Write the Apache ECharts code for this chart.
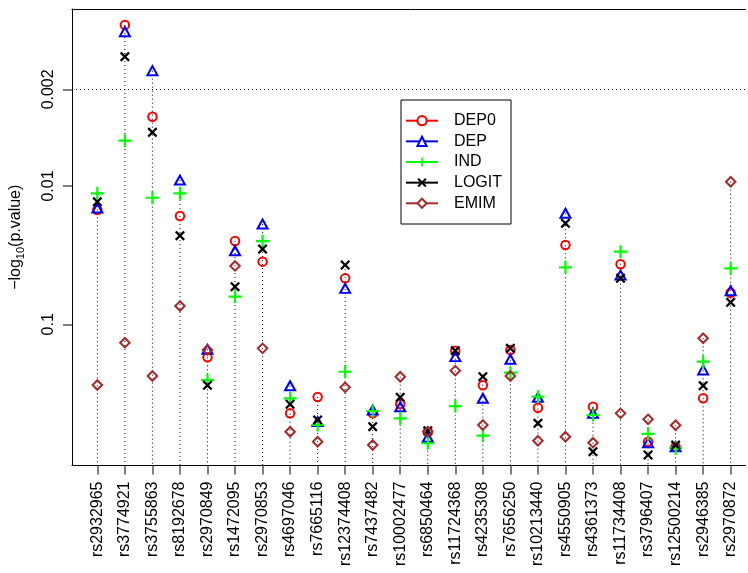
<!DOCTYPE html>
<html>
<head>
<meta charset="utf-8">
<script src="https://cdn.jsdelivr.net/npm/echarts@6/dist/echarts.min.js"></script>
<style>
html,body{margin:0;padding:0;background:#fff;overflow:hidden;}
#chart{width:748px;height:573px;overflow:hidden;}
</style>
</head>
<body>
<div id="chart"></div>
<script>
// SNP names (x categories)
const categories = ['rs2932965','rs3774921','rs3755863','rs8192678','rs2970849','rs1472095','rs2970853','rs4697046','rs7665116','rs12374408','rs7437482','rs10002477','rs6850464','rs11724368','rs4235308','rs7656250','rs10213440','rs4550905','rs4361373','rs11734408','rs3796407','rs12500214','rs2946385','rs2970872'];

// -log10(p.value) per test
const dep0  = [1.826, 3.164, 2.501, 1.783, 0.761, 1.602, 1.453, 0.356, 0.474, 1.333, 0.356, 0.424, 0.223, 0.809, 0.559, 0.814, 0.397, 1.573, 0.404, 1.434, 0.151, 0.115, 0.465, 1.228];
const dep   = [1.841, 3.116, 2.834, 2.043, 0.819, 1.532, 1.725, 0.556, 0.296, 1.260, 0.380, 0.404, 0.183, 0.766, 0.465, 0.747, 0.472, 1.803, 0.356, 1.356, 0.144, 0.115, 0.670, 1.243];
const ind   = [1.947, 2.328, 1.915, 1.947, 0.597, 1.200, 1.602, 0.465, 0.272, 0.657, 0.373, 0.320, 0.140, 0.409, 0.195, 0.650, 0.477, 1.412, 0.344, 1.525, 0.207, 0.104, 0.730, 1.405];
const logit = [1.886, 2.935, 2.388, 1.641, 0.559, 1.272, 1.544, 0.422, 0.308, 1.429, 0.260, 0.472, 0.230, 0.809, 0.621, 0.826, 0.284, 1.730, 0.079, 1.333, 0.055, 0.127, 0.556, 1.159];
const emim  = [0.561, 0.867, 0.626, 1.132, 0.814, 1.422, 0.826, 0.223, 0.151, 0.544, 0.127, 0.621, 0.223, 0.665, 0.272, 0.626, 0.158, 0.187, 0.144, 0.356, 0.313, 0.270, 0.899, 2.031];

// y tick labels (p-values) and threshold line
const yTickP = [0.1, 0.01, 0.002];
const yTickLabels = ['0.1', '0.01', '0.002'];
const thresholdP = 0.002;

const seriesNames = ['DEP0', 'DEP', 'IND', 'LOGIT', 'EMIM'];
const seriesData = [dep0, dep, ind, logit, emim];
const colors = ['#FF0000', '#0000FF', '#00FF00', '#000000', '#A52A2A'];

const PLUS = 'path://M5.4,0H7.6V5.4H13V7.6H7.6V13H5.4V7.6H0V5.4H5.4Z';
const CROSS = 'path://M0,1.6L1.6,0L5,3.4L8.4,0L10,1.6L6.6,5L10,8.4L8.4,10L5,6.6L1.6,10L0,8.4L3.4,5Z';
const symbols = ['circle', 'triangle', PLUS, CROSS, 'diamond'];
const symbolSizes = [8.5, [10, 9], 13, 10, 9.5];
const hollow = [true, true, false, false, true];

const yTickV = yTickP.map(p => -Math.log10(p));
const FONT = "'Liberation Sans', Arial, sans-serif";

const maxPerCat = categories.map((c, i) => Math.max(...seriesData.map(s => s[i])));
const yMin = -0.021, yMax = 3.28;
const xMin = 0.08, xMax = 24.92;

const series = [];
series.push({
  type: 'custom',
  name: 'stems',
  silent: true,
  z: 1,
  data: maxPerCat.map((v, i) => [i + 1, v]),
  renderItem: function (params, api) {
    const x = api.value(0);
    const top = api.coord([x, api.value(1)]);
    const bot = api.coord([x, yMin]);
    return {
      type: 'line',
      shape: { x1: top[0], y1: top[1], x2: bot[0], y2: bot[1] },
      style: { stroke: '#000', lineWidth: 1, lineDash: [1, 3] }
    };
  },
  markLine: {
    silent: true,
    symbol: 'none',
    label: { show: false },
    lineStyle: { color: '#000', width: 1, type: [1, 3] },
    data: [{ yAxis: -Math.log10(thresholdP) }]
  }
});

seriesNames.forEach((name, k) => {
  series.push({
    type: 'line',
    name: name,
    z: 3 + k,
    symbol: symbols[k],
    symbolSize: symbolSizes[k],
    data: seriesData[k].map((v, i) => [i + 1, v]),
    lineStyle: { color: colors[k], width: 2, opacity: 0 },
    itemStyle: hollow[k]
      ? { color: 'rgba(0,0,0,0)', borderColor: colors[k], borderWidth: 2 }
      : { color: colors[k], borderWidth: 0 },
    emphasis: { disabled: true },
    animation: false
  });
});

const chart = echarts.init(document.getElementById('chart'), null, { renderer: 'canvas' });
chart.setOption({
  animation: false,
  backgroundColor: '#fff',
  textStyle: { fontFamily: FONT },
  grid: {
    left: 72, top: 9, right: -8, bottom: 107.5,
    outerBoundsMode: 'none',
    containLabel: false,
    show: false
  },
  graphic: [{
    type: 'rect', right: 0, top: 0, z: 1000, silent: true,
    shape: { width: 2, height: 573 },
    style: { fill: '#fff' }
  }],
  legend: {
    orient: 'vertical',
    left: 401, top: 100,
    padding: [10.7, 9, 10.7, 4],
    itemWidth: 32, itemHeight: 11.5, itemGap: 0.65,
    borderColor: '#000', borderWidth: 1, backgroundColor: '#fff',
    lineStyle: { opacity: 1, width: 2 },
    textStyle: { fontFamily: FONT, fontSize: 16, color: '#000', lineHeight: 20, padding: [0, 0, 0, 11] },
    data: seriesNames.map((n, k) => hollow[k] ? { name: n, itemStyle: { color: '#fff' } } : { name: n })
  },
  xAxis: [{
    type: 'value',
    position: 'bottom',
    min: xMin, max: xMax,
    splitLine: { show: false },
    axisLine: { show: true, onZero: false, lineStyle: { color: '#000', width: 1 } },
    axisTick: { show: true, length: 9, lineStyle: { color: '#555', width: 1.5 }, customValues: categories.map((c, i) => i + 1) },
    axisLabel: {
      show: true, rotate: 90, margin: 16,
      fontFamily: FONT, fontSize: 16, color: '#000',
      customValues: categories.map((c, i) => i + 1),
      formatter: v => categories[Math.round(v) - 1] || ''
    }
  }, {
    type: 'value',
    position: 'top',
    min: xMin, max: xMax,
    splitLine: { show: false },
    axisLine: { show: true, onZero: false, lineStyle: { color: '#000', width: 1 } },
    axisTick: { show: false },
    axisLabel: { show: false }
  }],
  yAxis: {
    type: 'value',
    min: yMin, max: yMax,
    splitLine: { show: false },
    axisLine: { show: true, onZero: false, lineStyle: { color: '#000', width: 1 } },
    axisTick: { show: true, length: 9, lineStyle: { color: '#555', width: 1.5 }, customValues: yTickV },
    axisLabel: {
      show: true, rotate: 90, margin: 15,
      fontFamily: FONT, fontSize: 16, color: '#000',
      customValues: yTickV,
      formatter: v => {
        for (let i = 0; i < yTickV.length; i++) if (Math.abs(v - yTickV[i]) < 1e-6) return yTickLabels[i];
        return '';
      }
    },
    name: '{a|−log}{b|10}{a|(p.value)}',
    nameLocation: 'middle',
    nameRotate: 90,
    nameGap: 46,
    nameTextStyle: {
      fontFamily: FONT, color: '#000',
      rich: {
        a: { fontFamily: FONT, fontSize: 16, lineHeight: 20, color: '#000' },
        b: { fontFamily: FONT, fontSize: 11, lineHeight: 11, verticalAlign: 'bottom', color: '#000' }
      }
    }
  },
  series: series
});
</script>
</body>
</html>
